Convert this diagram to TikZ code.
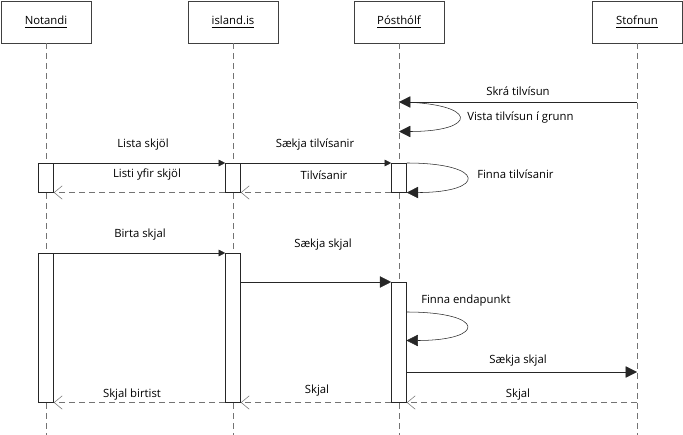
\documentclass[tikz,border=0pt]{standalone}
\usepackage{fontspec}
\setmainfont{Open Sans}
\usetikzlibrary{arrows.meta}

\begin{document}
\begin{tikzpicture}[x=0.75pt, y=-0.75pt,
    every node/.style={font=\fontsize{8.5}{10}\selectfont},
    actor/.style={draw=black!75, fill=white, minimum width=67.5pt, minimum height=31.5pt, inner sep=0pt},
    lifeline/.style={draw=black!55, dash pattern=on 4.5pt off 3pt},
    activation/.style={draw=black!85, fill=white, minimum width=11.25pt, inner sep=0pt, anchor=north},
    call/.style={draw=black!85, -{Triangle[length=5pt, width=5pt]}},
    bigcall/.style={draw=black!85, -{Triangle[length=8.5pt, width=8.5pt]}},
    reply/.style={draw=black!55, dash pattern=on 4.5pt off 3pt, -{Straight Barb[length=6pt, width=10pt]}},
    msg/.style={inner sep=0pt}]
  \useasboundingbox (0,0) rectangle (683,435);

  \foreach \name/\x/\txt in {notandi/46/Notandi, island/233/island.is, postholf/399/Pósthólf, stofnun/637/Stofnun} {
    \node[actor] (\name) at (\x,22) {\underline{\txt}};
    \coordinate (\name-end) at (\x,435);
    \draw[lifeline] (\name) -- (\name-end);
  }

  \node[activation, minimum height=21.75pt] (n1) at (46,163) {};
  \node[activation, minimum height=21.75pt] (i1) at (233,163) {};
  \node[activation, minimum height=21.75pt] (p1) at (399,163) {};
  \node[activation, minimum height=111.75pt] (n2) at (46,253) {};
  \node[activation, minimum height=111.75pt] (i2) at (233,253) {};
  \node[activation, minimum height=90pt] (p2) at (399,282) {};

  \coordinate (s-skra) at (637,102);
  \coordinate (p-skra) at (399,102);
  \coordinate (p-vista) at (399,131.5);
  \coordinate (p-finna) at (406.5,312);
  \coordinate (p-endap) at (406.5,340.5);
  \coordinate (s-saekja) at (637,372);

  \draw[bigcall] (s-skra) -- (p-skra);
  \draw[bigcall] (p-skra) .. controls +(80,1) and +(80,0) .. (p-vista);
  \draw[call] (n1.north east) -- (i1.north west);
  \draw[call] (i1.north east) -- (p1.north west);
  \draw[bigcall] (p1.north east) .. controls +(80,0) and +(80,0) .. (p1.south east);
  \draw[reply] (i1.south west) -- (n1.south east);
  \draw[reply] (p1.south west) -- (i1.south east);
  \draw[call] (n2.north east) -- (i2.north west);
  \draw[bigcall] (i2.east |- p2.north) -- (p2.north west);
  \draw[bigcall] (p-finna) .. controls +(80,0) and +(80,0) .. (p-endap);
  \draw[bigcall] (p2.east |- s-saekja) -- (s-saekja);
  \draw[reply] (stofnun-end |- p2.south) -- (p2.south east);
  \draw[reply] (p2.south west) -- (i2.south east);
  \draw[reply] (i2.south west) -- (n2.south east);

  \node[msg] (t-skra) at (518,91) {Skrá tilvísun};
  \node[msg, anchor=west] (t-vista) at (467,118) {Vista tilvísun í grunn};
  \node[msg] (t-lista) at (143,145) {Lista skjöl};
  \node[msg] (t-saekjat) at (315,145) {Sækja tilvísanir};
  \node[msg] (t-listi) at (147,175) {Listi yfir skjöl};
  \node[msg] (t-tilv) at (324,175) {Tilvísanir};
  \node[msg, anchor=west] (t-finnat) at (477,174) {Finna tilvísanir};
  \node[msg] (t-birta) at (140,235) {Birta skjal};
  \node[msg] (t-saekjas) at (323,245) {Sækja skjal};
  \node[msg, anchor=west] (t-finnae) at (421,301) {Finna endapunkt};
  \node[msg] (t-saekjas2) at (518,361) {Sækja skjal};
  \node[msg] (t-skjal2) at (518,395) {Skjal};
  \node[msg] (t-skjal) at (317,391) {Skjal};
  \node[msg] (t-birtist) at (132,395) {Skjal birtist};
\end{tikzpicture}
\end{document}
